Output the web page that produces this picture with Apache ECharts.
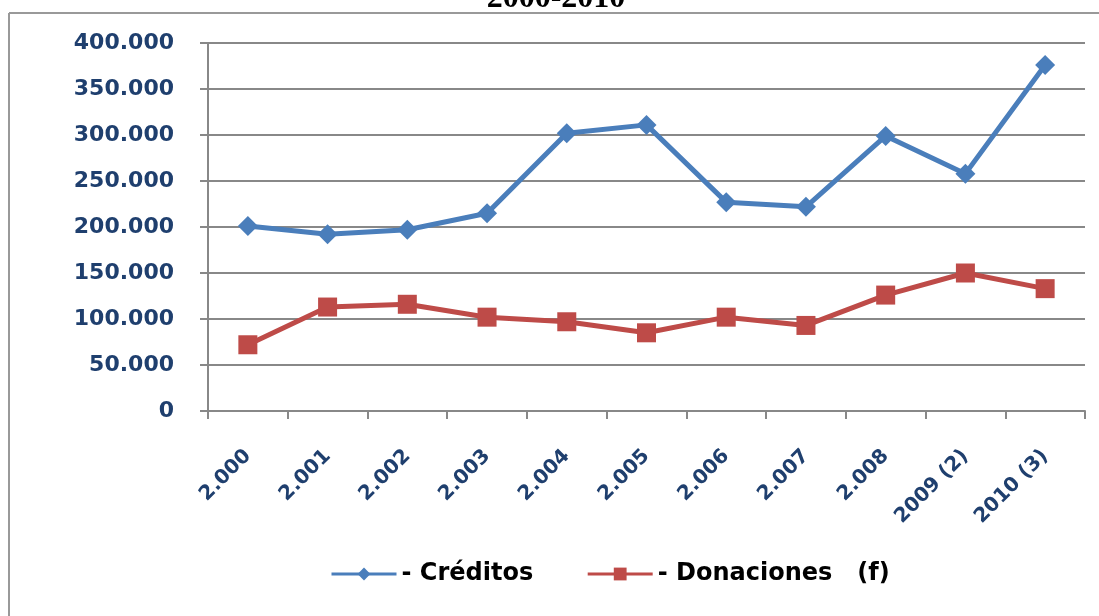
<!DOCTYPE html>
<html>
<head>
<meta charset="utf-8">
<script src="https://cdn.jsdelivr.net/npm/echarts@6/dist/echarts.min.js"></script>
<style>
  html, body { margin: 0; padding: 0; background: #fff; }
  #chart { width: 1099px; height: 616px; }
</style>
</head>
<body>
<div id="chart"></div>
<script>
// data
var years = ['2.000', '2.001', '2.002', '2.003', '2.004', '2.005', '2.006', '2.007', '2.008', '2009 (2)', '2010 (3)'];
var creditos = [201000, 192000, 197000, 215000, 302000, 311000, 227000, 222000, 299000, 258000, 376000];
var donaciones = [72000, 113000, 116000, 102000, 97000, 85000, 102000, 93000, 126000, 150000, 133000];
var titleText = '2000-2010';

var blue = '#4A7EBB';
var red = '#BE4B48';
var labelColor = '#1F3F6E';

function fmt(v) {
	if (v === 0) return '0';
	return (v / 1000).toFixed(0) + '.000';
}

var chart = echarts.init(document.getElementById('chart'));

chart.setOption({
	animation: false,
	backgroundColor: '#fff',
	graphic: [
		{ type: 'line', shape: { x1: 9, y1: 13, x2: 1099, y2: 13 }, style: { stroke: '#999', lineWidth: 2 } },
		{ type: 'line', shape: { x1: 9, y1: 13, x2: 9, y2: 616 }, style: { stroke: '#999', lineWidth: 2 } },
		// title is cut off by the top of the picture
		{ type: 'text', style: { x: 556, y: -17, text: titleText, textAlign: 'center', font: 'bold 32px "Liberation Serif", serif', fill: '#000' } }
	],
	grid: { left: 208, right: 14, top: 43, bottom: 205 },
	legend: {
		top: 557,
		left: 325,
		itemWidth: 65,
		itemHeight: 16,
		itemGap: 53,
		lineStyle: { width: 3 },
		textStyle: { fontFamily: '"DejaVu Sans", sans-serif', fontWeight: 'bold', fontSize: 24, color: '#000' },
		data: ['- Créditos', '- Donaciones   (f)']
	},
	xAxis: {
		type: 'category',
		data: years,
		boundaryGap: true,
		axisLine: { lineStyle: { color: '#888', width: 2 } },
		axisTick: { show: true, length: 8, alignWithLabel: false, lineStyle: { color: '#888', width: 2 } },
		axisLabel: { interval: 0, rotate: 45, margin: 42, color: labelColor, fontFamily: '"DejaVu Sans", sans-serif', fontWeight: 'bold', fontSize: 20 }
	},
	yAxis: {
		type: 'value',
		min: 0,
		max: 400000,
		interval: 50000,
		axisLine: { show: true, lineStyle: { color: '#888', width: 2 } },
		axisTick: { show: true, length: 8, lineStyle: { color: '#888', width: 2 } },
		splitLine: { lineStyle: { color: '#888', width: 2 } },
		axisLabel: { margin: 34, color: labelColor, fontFamily: '"DejaVu Sans", sans-serif', fontWeight: 'bold', fontSize: 22, formatter: fmt }
	},
	series: [
		{
			name: '- Créditos',
			type: 'line',
			data: creditos,
			symbol: 'diamond',
			symbolSize: 20,
			lineStyle: { color: blue, width: 5 },
			itemStyle: { color: blue }
		},
		{
			name: '- Donaciones   (f)',
			type: 'line',
			data: donaciones,
			symbol: 'rect',
			symbolSize: 19,
			lineStyle: { color: red, width: 5 },
			itemStyle: { color: red }
		}
	]
});
</script>
</body>
</html>
